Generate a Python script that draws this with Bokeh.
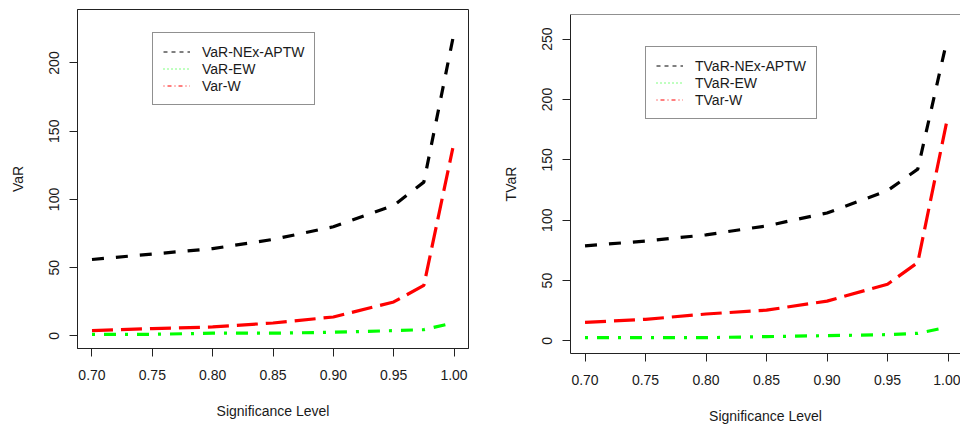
from bokeh.plotting import figure
from bokeh.layouts import row, column
from bokeh.models import (ColumnDataSource, FixedTicker, PrintfTickFormatter,
                          Legend, LegendItem, Range1d, Span, Spacer)
from bokeh.embed import file_html
from bokeh.resources import INLINE

# ---------------- data ----------------
sig_level = [0.70, 0.75, 0.80, 0.85, 0.90, 0.95, 0.975, 0.999]

var_nex_aptw = [56.0, 60.0, 64.0, 70.7, 80.0, 95.6, 112.7, 217.6]
var_ew = [1.2, 1.2, 2.0, 2.0, 2.7, 3.9, 4.6, 9.5]
var_w = [3.9, 5.4, 6.6, 9.5, 13.9, 24.9, 37.0, 137.6]

tvar_nex_aptw = [78.8, 82.7, 87.9, 95.3, 106.0, 124.5, 142.3, 248.6]
tvar_ew = [2.7, 2.7, 2.7, 3.6, 4.4, 5.2, 6.3, 11.3]
tvar_w = [15.4, 17.9, 22.3, 25.5, 33.0, 47.0, 65.0, 182.0]

x_ticks = [0.70, 0.75, 0.80, 0.85, 0.90, 0.95, 1.00]
left_y_ticks = [0, 50, 100, 150, 200]
right_y_ticks = [0, 50, 100, 150, 200, 250]

left_labels = ["VaR-NEx-APTW", "VaR-EW", "Var-W"]
right_labels = ["TVaR-NEx-APTW", "TVaR-EW", "TVar-W"]
x_title = "Significance Level"

FONT = "Liberation Sans"
TXT = "#1a1a1a"
EDGE = "#222222"
GREEN = "#00ff00"
RED = "#ff0000"


def make_panel(ylab, y_ticks, y_range, x_range, series, labels, width, height,
               border_left, border_right, border_top, border_bottom,
               legend_loc, outline=True):
    p = figure(width=width, height=height, output_backend="svg",
               toolbar_location=None, title=None, x_range=Range1d(*x_range),
               y_range=Range1d(*y_range),
               min_border_left=border_left, min_border_right=border_right,
               min_border_top=border_top, min_border_bottom=border_bottom)
    p.grid.visible = False
    p.background_fill_color = "white"
    p.border_fill_color = "white"
    if outline:
        p.outline_line_color = EDGE
        p.outline_line_width = 1
    else:
        p.outline_line_color = None
        p.add_layout(Span(location=y_range[1], dimension="width",
                          line_color=EDGE, line_width=1))

    for ax in (p.xaxis[0], p.yaxis[0]):
        ax.axis_line_color = EDGE
        ax.major_tick_line_color = EDGE
        ax.major_tick_out = 8
        ax.major_tick_in = 0
        ax.minor_tick_out = 0
        ax.minor_tick_in = 0
        ax.major_label_text_font = FONT
        ax.major_label_text_font_size = "14px"
        ax.major_label_text_color = TXT
        ax.axis_label_text_font = FONT
        ax.axis_label_text_font_size = "14px"
        ax.axis_label_text_font_style = "normal"
        ax.axis_label_text_color = TXT

    p.xaxis.ticker = FixedTicker(ticks=x_ticks)
    p.xaxis.formatter = PrintfTickFormatter(format="%.2f")
    p.xaxis.axis_label = x_title
    p.xaxis.major_label_standoff = 13
    p.xaxis.axis_label_standoff = 20

    p.yaxis.ticker = FixedTicker(ticks=y_ticks)
    p.yaxis.major_label_orientation = "vertical"
    p.yaxis.axis_label = ylab
    p.yaxis.major_label_standoff = 10
    p.yaxis.axis_label_standoff = 21

    src = ColumnDataSource(dict(x=sig_level, a=series[0], b=series[1], c=series[2]))
    p.line("x", "a", source=src, line_color="black", line_width=3.2,
           line_dash="12 12")
    p.line("x", "c", source=src, line_color=RED, line_width=3.2,
           line_dash="21 8")
    p.line("x", "b", source=src, line_color=GREEN, line_width=3.2,
           line_dash="3 9 12 9")

    # legend-only renderers (thin styles as in the original legend);
    # a single-point line draws nothing in the plot area
    one = ColumnDataSource(dict(x=sig_level[:1], a=series[0][:1],
                                b=series[1][:1], c=series[2][:1]))
    l1 = p.line("x", "a", source=one, line_color="black", line_width=1,
                line_dash="4 4")
    l2 = p.line("x", "b", source=one, line_color=GREEN, line_width=1,
                line_dash="1 3")
    l3 = p.line("x", "c", source=one, line_color=RED, line_width=1,
                line_dash="1 3 4 3")
    legend = Legend(items=[LegendItem(label=labels[0], renderers=[l1]),
                           LegendItem(label=labels[1], renderers=[l2]),
                           LegendItem(label=labels[2], renderers=[l3])],
                    location=legend_loc)
    legend.label_text_font = FONT
    legend.label_text_font_size = "14px"
    legend.label_text_color = TXT
    legend.border_line_color = EDGE
    legend.border_line_width = 1
    legend.background_fill_color = "white"
    legend.background_fill_alpha = 1.0
    legend.padding = 10
    legend.spacing = 0
    legend.margin = 0
    legend.glyph_width = 27
    legend.glyph_height = 17
    legend.label_height = 17
    legend.label_standoff = 12
    p.add_layout(legend, "center")
    return p


left = make_panel("VaR", left_y_ticks, (-9.2, 239.2), (0.688, 1.012),
                  (var_nex_aptw, var_ew, var_w), left_labels,
                  width=480, height=426, border_left=77, border_right=12,
                  border_top=9, border_bottom=78, legend_loc=(75, 243))

right = make_panel("TVaR", right_y_ticks, (-10.4, 270.4), (0.688, 1.0103),
                   (tvar_nex_aptw, tvar_ew, tvar_w), right_labels,
                   width=480, height=421, border_left=90, border_right=0,
                   border_top=9, border_bottom=68, legend_loc=(75, 234),
                   outline=False)

layout = row(left, column(Spacer(width=480, height=5), right))
open("out.html", "w").write(file_html(layout, INLINE))
